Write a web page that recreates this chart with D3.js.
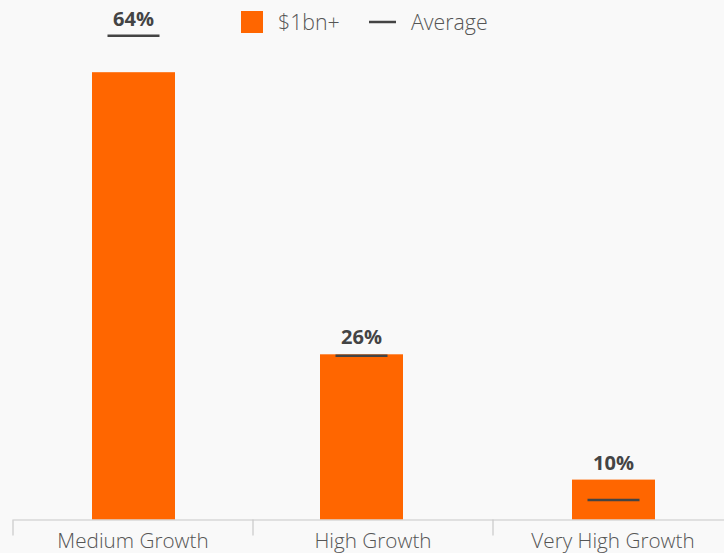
<!DOCTYPE html>
<html>
<head>
<meta charset="utf-8">
<script src="https://cdn.jsdelivr.net/npm/d3@7"></script>
<style>
  html, body { margin: 0; padding: 0; background: #f9f9f9; }
  svg { display: block; font-family: "Open Sans", "Noto Sans", sans-serif; }
</style>
</head>
<body>
<svg id="chart" width="724" height="553"></svg>
<script>
const categories = ["Medium Growth", "High Growth", "Very High Growth"];
const billionPlus = [63.9, 23.6, 5.7];
const average = [69.1, 23.4, 2.8];
const valueLabels = ["64%", "26%", "10%"];
const legendLabels = ["$1bn+", "Average"];

const data = categories.map((c, i) => ({ cat: c, bar: billionPlus[i], avg: average[i], label: valueLabels[i] }));

const svg = d3.select("#chart");
const W = 724, H = 553;
svg.append("rect").attr("width", W).attr("height", H).attr("fill", "#f9f9f9");

const x = d3.scaleBand().domain(categories).range([13, 733]).padding(0);
// the original places the middle group slightly left of its band centre
const barShift = d3.scaleOrdinal().domain(categories).range([0.5, -11.5, 0.5]);
const y = d3.scaleLinear().domain([0, 70]).range([519.5, 29.5]);
const barW = 83, avgW = 52;
const orange = "#ff6600", dark = "#444444";
const cx = d => x(d.cat) + x.bandwidth() / 2 + barShift(d.cat);

// bars
svg.append("g").selectAll("rect").data(data).join("rect")
  .attr("x", d => cx(d) - barW / 2)
  .attr("y", d => y(d.bar))
  .attr("width", barW)
  .attr("height", d => y(0) - y(d.bar))
  .attr("fill", orange);

// average markers
svg.append("g").selectAll("line").data(data).join("line")
  .attr("x1", d => cx(d) - avgW / 2)
  .attr("x2", d => cx(d) + avgW / 2)
  .attr("y1", d => y(d.avg))
  .attr("y2", d => y(d.avg))
  .attr("stroke", dark)
  .attr("stroke-width", 2.5);

// value labels
svg.append("g").selectAll("text").data(data).join("text")
  .attr("x", d => cx(d))
  .attr("y", d => Math.min(y(d.bar), y(d.avg)) - 10)
  .attr("text-anchor", "middle")
  .attr("font-size", 20)
  .attr("font-weight", 700)
  .attr("fill", dark)
  .text(d => d.label);

// axis
const axisG = svg.append("g").attr("transform", `translate(0,${y(0)})`);
axisG.call(d3.axisBottom(x).tickSize(0).tickPadding(14))
  .call(g => g.select(".domain").attr("stroke", "#c8c8c8").attr("stroke-width", 1.2))
  .call(g => g.selectAll(".tick text")
    .attr("font-size", 20.7)
    .attr("font-weight", 300)
    .attr("font-family", "'Open Sans', sans-serif")
    .attr("fill", "#555"));
const edges = categories.map(c => x(c)).concat([x(categories[categories.length - 1]) + x.bandwidth()]);
axisG.selectAll(".boundary").data(edges).join("line")
  .attr("class", "boundary")
  .attr("x1", d => d).attr("x2", d => d)
  .attr("y1", 0).attr("y2", 16)
  .attr("stroke", "#c8c8c8").attr("stroke-width", 1.2);

// legend
const lg = svg.append("g");
lg.append("rect").attr("x", 241).attr("y", 11).attr("width", 22).attr("height", 22).attr("fill", orange);
lg.append("text").attr("x", 278).attr("y", 30).attr("font-size", 21.3).attr("font-weight", 300).attr("fill", "#555").text(legendLabels[0]);
lg.append("line").attr("x1", 369).attr("x2", 396).attr("y1", 22).attr("y2", 22)
  .attr("stroke", dark).attr("stroke-width", 2.5);
lg.append("text").attr("x", 411).attr("y", 30).attr("font-size", 21.3).attr("font-weight", 300).attr("fill", "#555").text(legendLabels[1]);
</script>
</body>
</html>
